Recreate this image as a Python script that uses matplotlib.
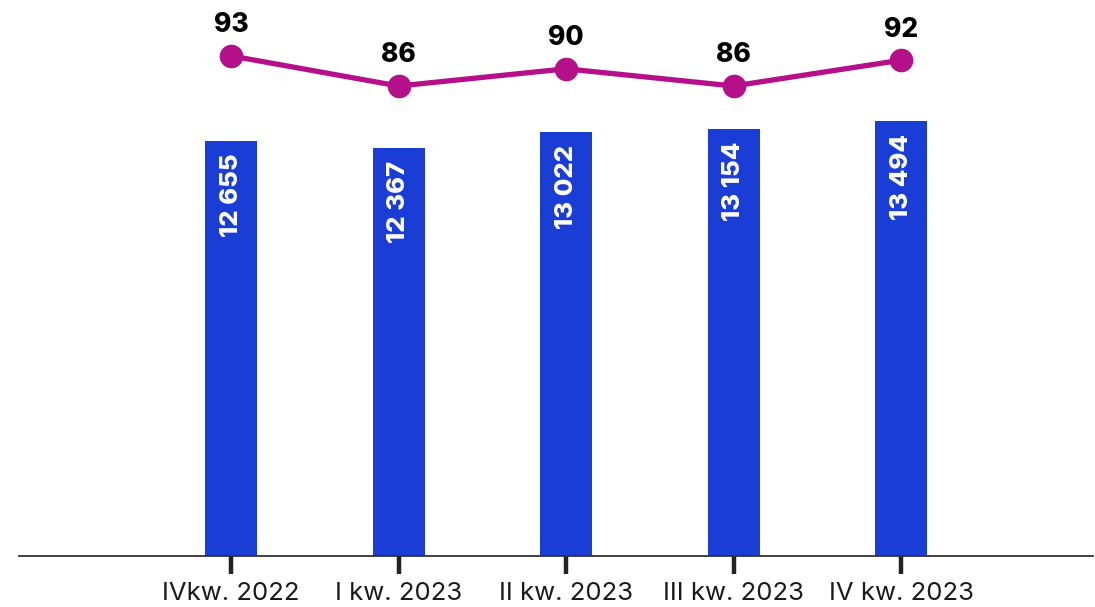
import matplotlib
matplotlib.use("Agg")
import matplotlib.pyplot as plt

categories = ["IVkw. 2022", "I kw. 2023", "II kw. 2023", "III kw. 2023", "IV kw. 2023"]
bar_values = [12655, 12367, 13022, 13154, 13494]
bar_labels = ["12 655", "12 367", "13 022", "13 154", "13 494"]
line_values = [93, 86, 90, 86, 92]

bar_color = "#1a3dd6"
line_color = "#b5108a"

plt.rcParams['font.family'] = ['Inter', 'DejaVu Sans']

fig = plt.figure(figsize=(10.95, 6.07), dpi=100)
ax = fig.add_axes([19 / 1095, 1 - 556 / 607, (1093 - 19) / 1095, 556 / 607])

x = list(range(len(categories)))
base = -4750
ax.bar(x, [v - base for v in bar_values], bottom=base, width=0.31, color=bar_color, zorder=2)
for xi, v, lab in zip(x, bar_values, bar_labels):
    ax.annotate(lab, (xi, v), xytext=(0, -9), textcoords="offset points",
                rotation=90, ha="center", va="top", color="white",
                fontsize=18.5, fontweight="heavy", zorder=3)

ax.set_xlim(-1.266, 5.146)
ax.set_ylim(base, 18570)
ax.set_xticks(x)
ax.set_xticklabels(categories, fontsize=18.5, color="#1a1a1a")
ax.tick_params(axis="x", length=13, width=3.2, color="#222222", pad=6)
ax.set_yticks([])
for s in ["top", "right", "left"]:
    ax.spines[s].set_visible(False)
ax.spines["bottom"].set_color("#333333")
ax.spines["bottom"].set_linewidth(1.3)

ax2 = ax.twinx()
ax2.plot(x, line_values, color=line_color, linewidth=3.8, marker="o",
         markersize=16, zorder=4)
for xi, v in zip(x, line_values):
    ax2.annotate(str(v), (xi, v), xytext=(0, 22), textcoords="offset points",
                 ha="center", va="center", fontsize=19, fontweight="heavy",
                 color="black")
ax2.set_ylim(-23.3, 106.0)
ax2.set_yticks([])
ax2.axis("off")

fig.savefig("out.png", dpi=100)
